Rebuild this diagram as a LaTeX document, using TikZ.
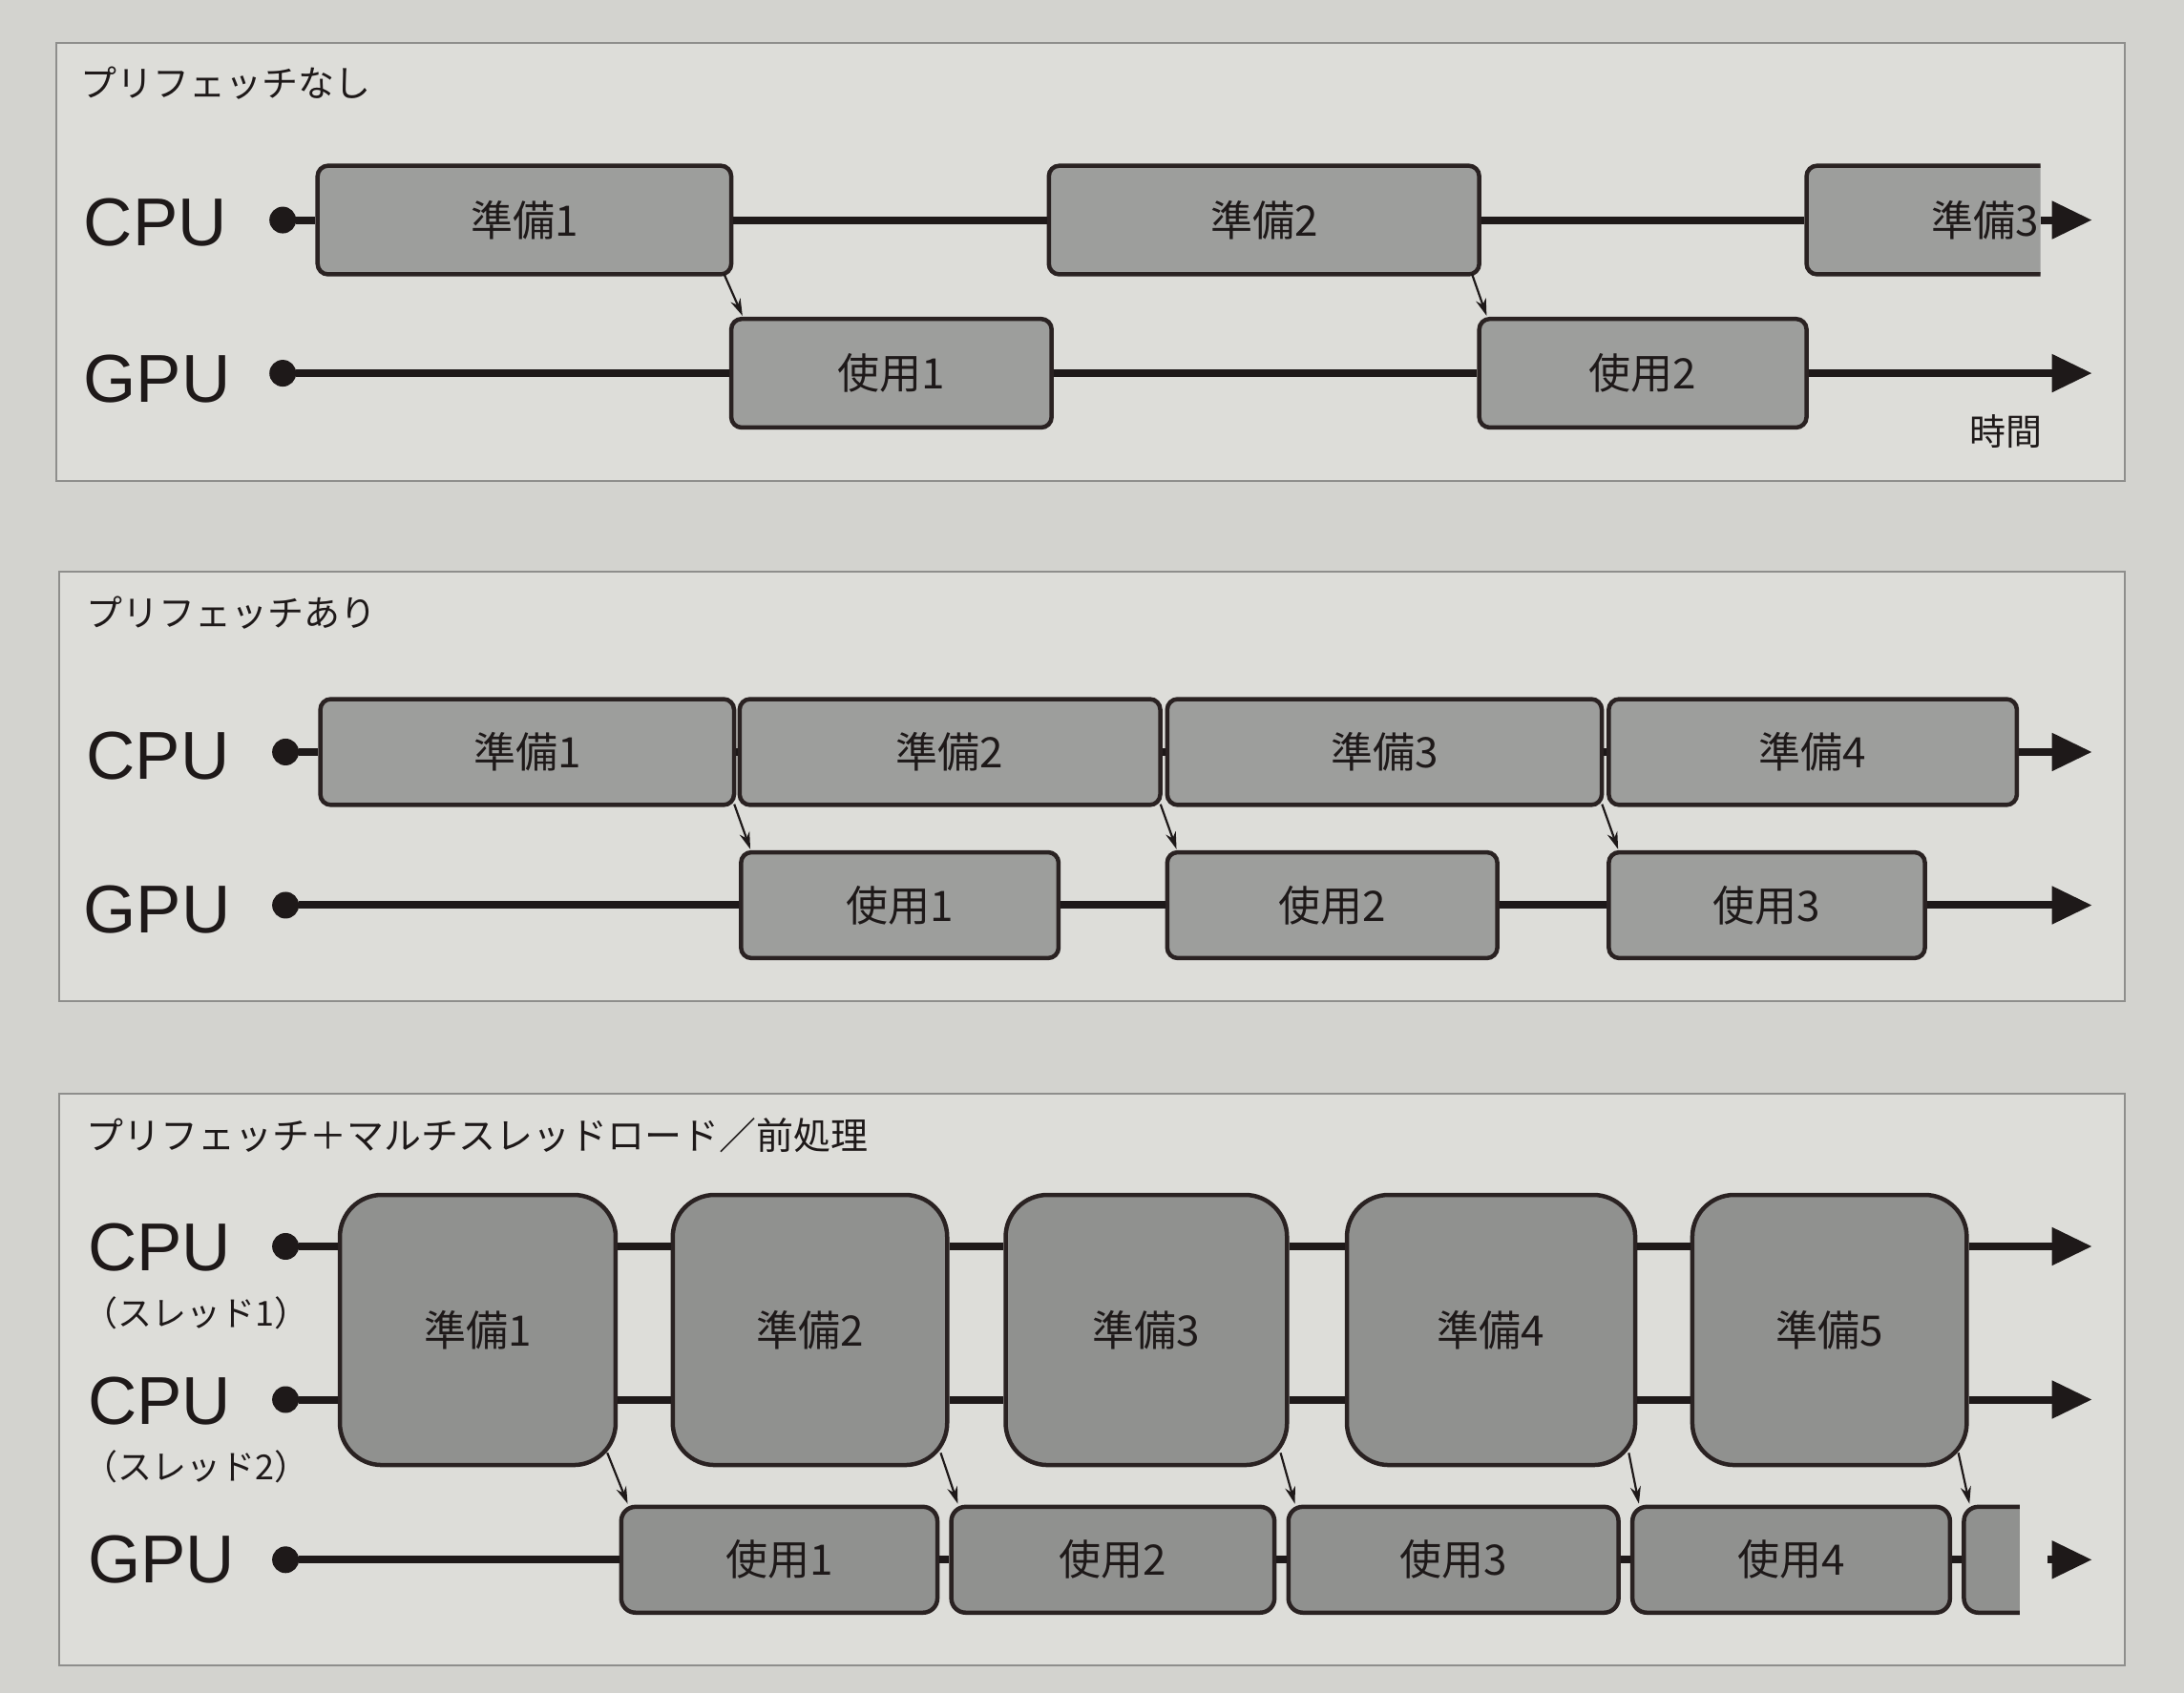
\documentclass[tikz,border=0pt]{standalone}
\usepackage{fontspec}
\setmainfont{Noto Sans CJK JP}
\newfontfamily\latf{Liberation Sans}
\usetikzlibrary{arrows.meta}
\definecolor{page}{HTML}{D3D3CF}
\definecolor{panelfill}{HTML}{DDDDD9}
\definecolor{pline}{HTML}{8E8E8C}
\definecolor{boxfill}{HTML}{9D9E9C}
\definecolor{boxfillb}{HTML}{90918F}
\definecolor{ink}{HTML}{1E1919}
\definecolor{bord}{HTML}{2A2222}
\newcommand{\mybx}[7]{\node[#1, minimum width={(#4-#2)*1.4592pt}, minimum height={(#5-#3)*1.4592pt}] (#6) at ({(#2+#4)/2},{(#3+#5)/2}) {#7};}
\begin{document}
\begin{tikzpicture}[x=1.4592pt,y=-1.4592pt,
  box/.style={draw=bord, fill=boxfill, line width=4.5pt, rounded corners=11pt, inner sep=0pt, font=\fontsize{44}{52}\selectfont, text=ink},
  bigbox/.style={box, fill=boxfillb, rounded corners=44pt},
  gbox/.style={box, fill=boxfillb, rounded corners=15pt},
  conn/.style={line width=8pt, draw=ink},
  tarrow/.style={conn, -{Triangle[length=42pt,width=38pt]}},
  diag/.style={line width=2.2pt, draw=ink, -{Stealth[length=18pt,width=11pt]}},
  pdot/.style={circle, fill=ink, minimum size=28pt, inner sep=0pt},
  lab/.style={font=\latf\fontsize{71}{80}\selectfont, text=ink, anchor=west, inner sep=0pt},
  sublab/.style={font=\fontsize{36}{42}\selectfont, text=ink, anchor=west, inner sep=0pt},
  ttl/.style={font=\fontsize{38}{44}\selectfont, anchor=west, text=ink, inner sep=0pt},
  panel/.style={draw=pline, fill=panelfill, line width=2pt}]
\useasboundingbox[fill=page] (0,0) rectangle (1568,1216);

% ---------- panels
\node[panel, minimum width={(1525-40)*1.4592pt}, minimum height={(345-30)*1.4592pt}, anchor=north west] (P1) at (40,30) {};
\node[panel, minimum width={(1525-42)*1.4592pt}, minimum height={(718-410)*1.4592pt}, anchor=north west] (P2) at (42,410) {};
\node[panel, minimum width={(1525-42)*1.4592pt}, minimum height={(1195-785)*1.4592pt}, anchor=north west] (P3) at (42,785) {};

% ---------- panel 1 : no prefetch
\node[ttl] (t1) at (58,60) {プリフェッチなし};
\node[lab] (cpu1) at (60,160) {CPU};
\node[lab] (gpu1) at (60,272) {GPU};
\node[pdot] (d1c) at (203,158) {};
\node[pdot] (d1g) at (203,268) {};
\mybx{box}{228}{119}{525}{197}{a1}{準備1}
\mybx{box}{753}{119}{1062}{197}{a2}{準備2}
\begin{scope}
\clip (1280,100) rectangle (1465,215);
\mybx{box}{1297}{119}{1553}{197}{a3}{準備3}
\end{scope}
\mybx{box}{525}{229}{755}{307}{b1}{使用1}
\mybx{box}{1062}{229}{1297}{307}{b2}{使用2}
\coordinate (a3cut) at (1465,158);
\coordinate (e1c) at (1502,158);
\coordinate (e1g) at (1502,268);
\draw[conn] (d1c) -- (a1.west);
\draw[conn] (a1.east) -- (a2.west);
\draw[conn] (a2.east) -- (a3.west);
\draw[tarrow] (a3cut) -- (e1c);
\draw[conn] (d1g) -- (b1.west);
\draw[conn] (b1.east) -- (b2.west);
\draw[tarrow] (b2.east) -- (e1g);
\draw[diag] ([xshift=-10pt,yshift=3pt]a1.south east) -- ([xshift=14pt,yshift=1pt]b1.north west);
\draw[diag] ([xshift=-10pt,yshift=3pt]a2.south east) -- ([xshift=10pt,yshift=1pt]b2.north west);
\node[font=\fontsize{38}{44}\selectfont, text=ink] (jikan) at (1440,310) {時間};

% ---------- panel 2 : prefetch
\node[ttl] (t2) at (62,440) {プリフェッチあり};
\node[lab] (cpu2) at (62,543) {CPU};
\node[lab] (gpu2) at (60,653) {GPU};
\node[pdot] (d2c) at (205,540) {};
\node[pdot] (d2g) at (205,650) {};
\mybx{box}{230}{502}{527}{578}{p1}{準備1}
\mybx{box}{531}{502}{833}{578}{p2}{準備2}
\mybx{box}{838}{502}{1150}{578}{p3}{準備3}
\mybx{box}{1155}{502}{1448}{578}{p4}{準備4}
\mybx{box}{532}{612}{760}{688}{u1}{使用1}
\mybx{box}{838}{612}{1075}{688}{u2}{使用2}
\mybx{box}{1155}{612}{1382}{688}{u3}{使用3}
\coordinate (e2c) at (1502,540);
\coordinate (e2g) at (1502,650);
\draw[conn] (d2c) -- (p1.west);
\draw[conn] (p1.east) -- (p2.west);
\draw[conn] (p2.east) -- (p3.west);
\draw[conn] (p3.east) -- (p4.west);
\draw[tarrow] (p4.east) -- (e2c);
\draw[conn] (d2g) -- (u1.west);
\draw[conn] (u1.east) -- (u2.west);
\draw[conn] (u2.east) -- (u3.west);
\draw[tarrow] (u3.east) -- (e2g);
\draw[diag] ([xshift=-2pt,yshift=3pt]p1.south east) -- ([xshift=12pt,yshift=1pt]u1.north west);
\draw[diag] ([xshift=-2pt,yshift=3pt]p2.south east) -- ([xshift=12pt,yshift=1pt]u2.north west);
\draw[diag] ([xshift=-2pt,yshift=3pt]p3.south east) -- ([xshift=12pt,yshift=1pt]u3.north west);

% ---------- panel 3 : prefetch + multithread
\node[ttl, font=\fontsize{39}{45}\selectfont] (t3) at (62,815) {プリフェッチ＋マルチスレッドロード／前処理};
\node[lab] (cpu3a) at (63,896) {CPU};
\node[sublab] (th1) at (60,943) {（スレッド1）};
\node[lab] (cpu3b) at (63,1006) {CPU};
\node[sublab] (th2) at (60,1053) {（スレッド2）};
\node[lab] (gpu3) at (63,1120) {GPU};
\node[pdot] (d3a) at (205,895) {};
\node[pdot] (d3b) at (205,1005) {};
\node[pdot] (d3g) at (205,1120) {};
\mybx{bigbox}{244}{858}{442}{1052}{c1}{準備1}
\mybx{bigbox}{483}{858}{680}{1052}{c2}{準備2}
\mybx{bigbox}{722}{858}{924}{1052}{c3}{準備3}
\mybx{bigbox}{967}{858}{1174}{1052}{c4}{準備4}
\mybx{bigbox}{1215}{858}{1412}{1052}{c5}{準備5}
\mybx{gbox}{446}{1082}{673}{1158}{g1}{使用1}
\mybx{gbox}{683}{1082}{915}{1158}{g2}{使用2}
\mybx{gbox}{925}{1082}{1162}{1158}{g3}{使用3}
\mybx{gbox}{1172}{1082}{1400}{1158}{g4}{使用4}
\begin{scope}
\clip (1395,1060) rectangle (1450,1180);
\mybx{gbox}{1410}{1082}{1640}{1158}{g5}{使用5}
\end{scope}
\coordinate (e3a) at (1502,895);
\coordinate (e3b) at (1502,1005);
\coordinate (g5cut) at (1470,1120);
\coordinate (e3g) at (1502,1120);
\foreach \d in {d3a,d3b}{
  \draw[conn] (\d) -- (\d -| c1.west);
  \draw[conn] (c1.east |- \d) -- (c2.west |- \d);
  \draw[conn] (c2.east |- \d) -- (c3.west |- \d);
  \draw[conn] (c3.east |- \d) -- (c4.west |- \d);
  \draw[conn] (c4.east |- \d) -- (c5.west |- \d);
}
\draw[tarrow] (c5.east |- d3a) -- (e3a);
\draw[tarrow] (c5.east |- d3b) -- (e3b);
\draw[conn] (d3g) -- (g1.west);
\draw[conn] (g1.east) -- (g2.west);
\draw[conn] (g2.east) -- (g3.west);
\draw[conn] (g3.east) -- (g4.west);
\draw[conn] (g4.east) -- (g5.west);
\draw[tarrow] (g5cut) -- (e3g);
\draw[diag] ([xshift=-11pt,yshift=15pt]c1.south east) -- ([xshift=9pt,yshift=1pt]g1.north west);
\draw[diag] ([xshift=-9pt,yshift=15pt]c2.south east) -- ([xshift=9pt,yshift=1pt]g2.north west);
\draw[diag] ([xshift=-9pt,yshift=15pt]c3.south east) -- ([xshift=9pt,yshift=1pt]g3.north west);
\draw[diag] ([xshift=-9pt,yshift=15pt]c4.south east) -- ([xshift=9pt,yshift=1pt]g4.north west);
\draw[diag] ([xshift=-11pt,yshift=15pt]c5.south east) -- ([xshift=8pt,yshift=1pt]g5.north west);
\end{tikzpicture}
\end{document}
